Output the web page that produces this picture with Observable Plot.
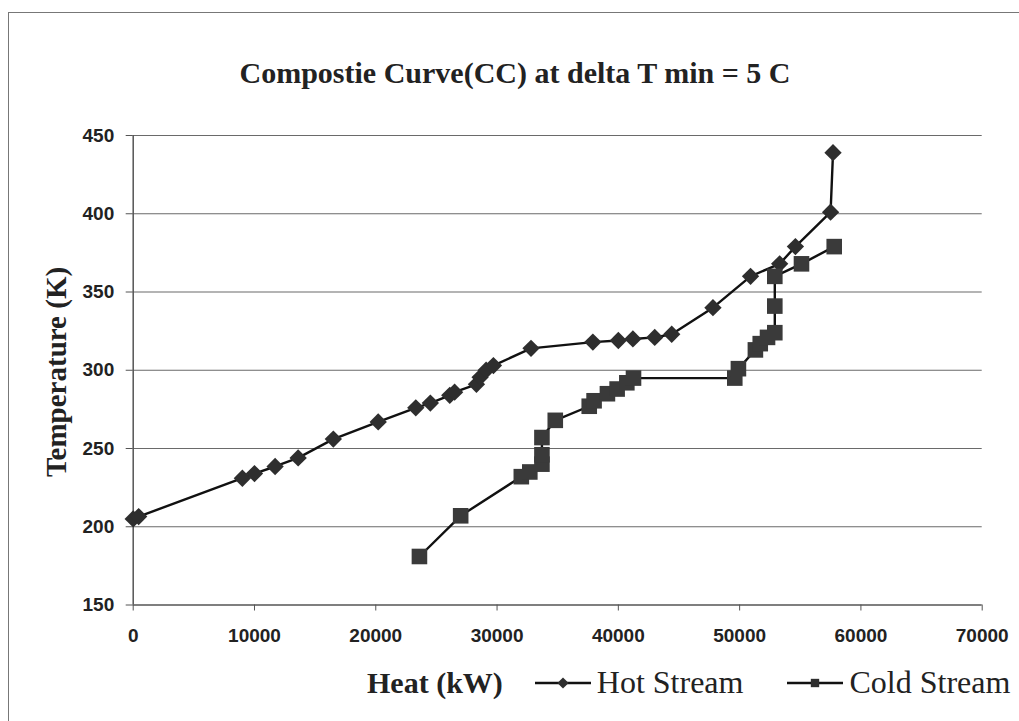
<!DOCTYPE html>
<html>
<head>
<meta charset="utf-8">
<script src="https://cdn.jsdelivr.net/npm/d3@7"></script>
<script src="https://cdn.jsdelivr.net/npm/@observablehq/plot@0.6"></script>
<style>
  html, body { margin: 0; padding: 0; background: #fff; }
  #wrap { position: relative; width: 1019px; height: 721px; overflow: hidden; background: #fff; }
  #frame { position: absolute; left: 8px; top: 12px; width: 1030px; height: 720px; border-left: 1.5px solid #777; border-top: 1.5px solid #777; }
  #title { position: absolute; left: 0; top: 56px; width: 1030px; text-align: center; font-family: "Liberation Serif", "Times New Roman", serif; font-weight: bold; font-size: 30px; color: #222; }
  #ylabel { position: absolute; left: 56px; top: 372px; transform: translate(-50%, -50%) rotate(-90deg); white-space: nowrap; font-family: "Liberation Serif", serif; font-weight: bold; font-size: 29px; color: #222; }
  #chart { position: absolute; left: 0; top: 120px; }
  #legend { position: absolute; left: 367px; top: 664px; display: flex; align-items: center; font-family: "Liberation Serif", serif; color: #222; white-space: nowrap; }
  #legend .xl { font-weight: bold; font-size: 30px; margin-right: 32px; }
  #legend .item { display: flex; align-items: center; font-size: 32px; margin-right: 44px; }
  #legend svg { margin-right: 6px; }
  svg text { fill: #222; }
</style>
</head>
<body>
<div id="wrap">
  <div id="frame"></div>
  <div id="title">Compostie Curve(CC) at delta T min = 5 C</div>
  <div id="ylabel">Temperature (K)</div>
  <div id="chart"></div>
  <div id="legend"></div>
</div>
<script>
// ---- data ----
const hotHeat = [0, 450, 9000, 10000, 11700, 13600, 16500, 20200, 23300, 24500, 26100, 26500, 28300, 28600, 29100, 29700, 32800, 37900, 40000, 41200, 43000, 44400, 47800, 50900, 53300, 54600, 57500, 57700];
const hotTemp = [205, 206.5, 231, 234, 238.5, 244, 256, 267, 276, 279, 284, 286, 291, 295.5, 300, 303, 314, 318, 319, 320, 321, 323, 340, 360, 368, 379, 401, 439];
const coldHeat = [23600, 27000, 32000, 32700, 33700, 33700, 33700, 34800, 37600, 38000, 39100, 39900, 40700, 41250, 49600, 49900, 51300, 51700, 52300, 52900, 52900, 52900, 55100, 57800];
const coldTemp = [181, 207, 232, 235, 240, 246, 257, 268, 277, 280.5, 285, 288, 292, 295, 295, 301, 313, 317, 321, 324, 341, 360, 368, 379];
const xTicks = [0, 10000, 20000, 30000, 40000, 50000, 60000, 70000];
const yTicks = [150, 200, 250, 300, 350, 400, 450];
const seriesNames = ["Hot Stream", "Cold Stream"];
const xLabel = "Heat (kW)";

const hot = hotHeat.map((h, i) => ({heat: h, temp: hotTemp[i]}));
const cold = coldHeat.map((h, i) => ({heat: h, temp: coldTemp[i]}));

const chart = Plot.plot({
  width: 1019,
  height: 540,
  marginLeft: 132.7,
  marginRight: 37.3,
  marginTop: 15,
  marginBottom: 55.5,
  style: {fontFamily: "'Liberation Sans', Arial, sans-serif", fontSize: "19px", background: "transparent", overflow: "visible"},
  x: {domain: [0, 70000]},
  y: {domain: [150, 450]},
  marks: [
    Plot.gridY(yTicks.filter(d => d > 150), {stroke: "#6a6a6a", strokeOpacity: 1, strokeWidth: 1.2}),
    Plot.axisY({ticks: yTicks, tickSize: 7, tickPadding: 12, fontWeight: "bold", fontSize: 19, label: null, stroke: "#555"}),
    Plot.axisX({ticks: xTicks, tickSize: 6, tickPadding: 17, fontWeight: "bold", fontSize: 19, label: null, tickFormat: d => String(d), stroke: "#555"}),
    Plot.ruleX([0], {stroke: "#555", strokeWidth: 1.5}),
    Plot.ruleY([150], {stroke: "#555", strokeWidth: 1.5}),
    Plot.line(hot, {x: "heat", y: "temp", stroke: "#111", strokeWidth: 2.4}),
    Plot.line(cold, {x: "heat", y: "temp", stroke: "#111", strokeWidth: 2.4}),
    Plot.dot(hot, {x: "heat", y: "temp", symbol: "diamond2", r: 7.8, fill: "#2e2e2e", stroke: "none"}),
    Plot.dot(cold, {x: "heat", y: "temp", symbol: "square", r: 8.8, fill: "#3a3a3a", stroke: "none"})
  ]
});
document.getElementById("chart").appendChild(chart);

// legend
const legend = document.getElementById("legend");
const xl = document.createElement("span");
xl.className = "xl";
xl.textContent = xLabel;
legend.appendChild(xl);
const symbols = [d3.symbolDiamond2, d3.symbolSquare];
const sizes = [80, 70];
seriesNames.forEach((name, i) => {
  const item = document.createElement("span");
  item.className = "item";
  const svg = d3.create("svg").attr("width", 56).attr("height", 20);
  svg.append("line").attr("x1", 0).attr("x2", 56).attr("y1", 10).attr("y2", 10).attr("stroke", "#111").attr("stroke-width", 2.4);
  svg.append("path").attr("d", d3.symbol(symbols[i], sizes[i])()).attr("transform", "translate(28,10)").attr("fill", "#2e2e2e");
  item.appendChild(svg.node());
  const t = document.createElement("span");
  t.textContent = name;
  item.appendChild(t);
  legend.appendChild(item);
});
</script>
</body>
</html>
